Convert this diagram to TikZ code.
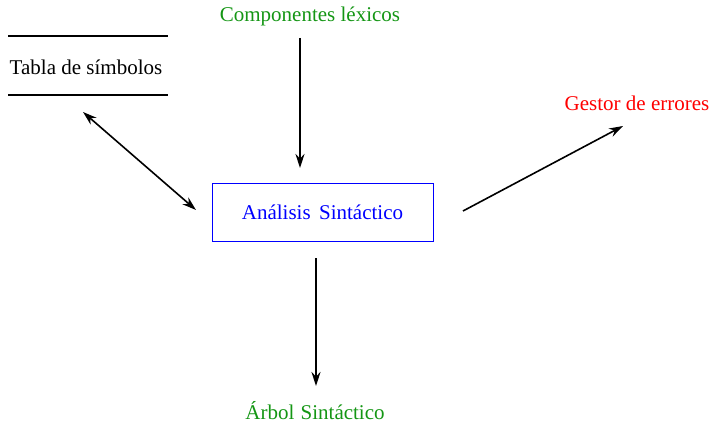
\documentclass[tikz,border=0pt]{standalone}
\usepackage{fontspec}
\setmainfont{Liberation Serif}
\usetikzlibrary{arrows.meta}
\definecolor{verde}{RGB}{20,150,20}
\begin{document}
\begin{tikzpicture}[x=0.5pt,y=-0.5pt,font=\fontsize{10.5}{12.5}\selectfont,
	flecha/.style={-{Stealth[length=7pt,width=4.5pt]},thick},
	caja/.style={draw=blue,text=blue,minimum width=110.5pt,minimum height=29pt}]
	\useasboundingbox (0,0) rectangle (711,422);
	\node (lex) at (310,16) [text=verde] {Componentes léxicos};
	\node (tab) at (86,67) {Tabla de símbolos};
	\node (err) at (637,103) [text=red] {Gestor de errores};
	\node[caja] (as) at (322.5,212) {Análisis\hspace{0.4em}Sintáctico};
	\node (arb) at (315,411) [text=verde] {Árbol\hspace{0.3em}Sintáctico};
	\coordinate (t1) at (8,36); \coordinate (t2) at (168,36);
	\coordinate (t3) at (8,95); \coordinate (t4) at (168,95);
	\draw[thick] (t1) -- (t2);
	\draw[thick] (t3) -- (t4);
	\coordinate (a1) at (300,38); \coordinate (a2) at (300,168);
	\coordinate (b1) at (83,112); \coordinate (b2) at (196,210);
	\coordinate (c1) at (463,211); \coordinate (c2) at (623,126);
	\coordinate (d1) at (316,258); \coordinate (d2) at (316,386);
	\draw[flecha] (a1) -- (a2);
	\draw[flecha,{Stealth[length=7pt,width=4.5pt]}-{Stealth[length=7pt,width=4.5pt]}] (b1) -- (b2);
	\draw[flecha] (c1) -- (c2);
	\draw[flecha] (d1) -- (d2);
\end{tikzpicture}
\end{document}
